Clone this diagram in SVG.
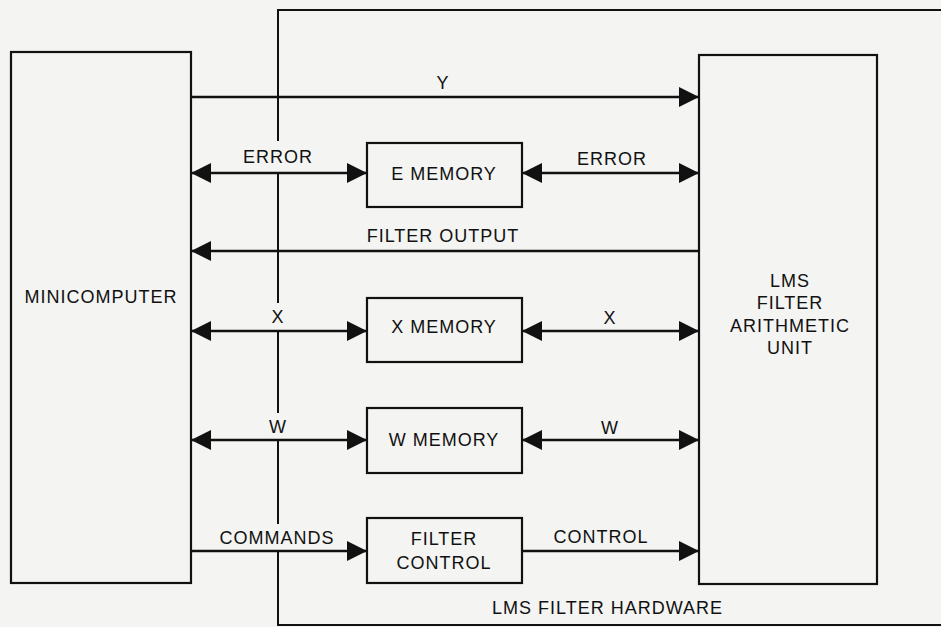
<svg xmlns="http://www.w3.org/2000/svg" width="941" height="627" viewBox="0 0 941 627">
<style>
.bg{fill:#f4f4f2}
.box{fill:none;stroke:#111;stroke-width:2.2}
.ln{fill:none;stroke:#111;stroke-width:2.6}
.bd{fill:none;stroke:#111;stroke-width:2}
text{font-family:"Liberation Sans",Arial,sans-serif;font-size:18px;letter-spacing:1px;fill:#111;text-anchor:middle}
</style>
<defs>
<marker id="ah" markerUnits="userSpaceOnUse" markerWidth="20" markerHeight="20" viewBox="0 0 18 18" refX="18" refY="9" orient="auto-start-reverse">
<path d="M0,0 L18,9 L0,18 Z" fill="#111"/>
</marker>
</defs>
<rect class="bg" x="0" y="0" width="941" height="627"/>
<g id="hardware">
<path class="bd" d="M278,141 V10 H941"/>
<path class="bd" d="M278,173 V303"/>
<path class="bd" d="M278,331 V413"/>
<path class="bd" d="M278,440 V524"/>
<path class="bd" d="M278,551 V625 H941"/>
<text x="492" y="614" style="text-anchor:start">LMS FILTER HARDWARE</text>
</g>
<g id="minicomputer">
<rect class="box" x="11" y="52" width="180" height="531"/>
<text x="101" y="303">MINICOMPUTER</text>
</g>
<g id="lms-unit">
<rect class="box" x="699" y="55" width="178" height="529"/>
<text x="790" y="287">LMS</text>
<text x="790" y="309">FILTER</text>
<text x="790" y="332">ARITHMETIC</text>
<text x="790" y="354">UNIT</text>
</g>
<g id="e-memory">
<rect class="box" x="367" y="143" width="155" height="64"/>
<text x="444" y="180">E MEMORY</text>
</g>
<g id="x-memory">
<rect class="box" x="367" y="298" width="155" height="64"/>
<text x="444" y="333">X MEMORY</text>
</g>
<g id="w-memory">
<rect class="box" x="367" y="408" width="155" height="65"/>
<text x="444" y="446">W MEMORY</text>
</g>
<g id="filter-control">
<rect class="box" x="367" y="518" width="155" height="65"/>
<text x="444" y="545">FILTER</text>
<text x="444" y="569">CONTROL</text>
</g>
<g id="connectors">
<line class="ln" x1="191" y1="97" x2="699" y2="97" marker-end="url(#ah)"/>
<text x="443" y="89">Y</text>
<line class="ln" x1="191" y1="173" x2="367" y2="173" marker-start="url(#ah)" marker-end="url(#ah)"/>
<text x="278" y="163">ERROR</text>
<line class="ln" x1="522" y1="173" x2="699" y2="173" marker-start="url(#ah)" marker-end="url(#ah)"/>
<text x="612" y="165">ERROR</text>
<line class="ln" x1="699" y1="251" x2="191" y2="251" marker-end="url(#ah)"/>
<text x="443" y="242">FILTER OUTPUT</text>
<line class="ln" x1="191" y1="331" x2="367" y2="331" marker-start="url(#ah)" marker-end="url(#ah)"/>
<text x="278" y="323">X</text>
<line class="ln" x1="522" y1="331" x2="699" y2="331" marker-start="url(#ah)" marker-end="url(#ah)"/>
<text x="610" y="324">X</text>
<line class="ln" x1="191" y1="440" x2="367" y2="440" marker-start="url(#ah)" marker-end="url(#ah)"/>
<text x="278" y="433">W</text>
<line class="ln" x1="522" y1="440" x2="699" y2="440" marker-start="url(#ah)" marker-end="url(#ah)"/>
<text x="610" y="434">W</text>
<line class="ln" x1="191" y1="551" x2="367" y2="551" marker-end="url(#ah)"/>
<text x="277" y="544">COMMANDS</text>
<line class="ln" x1="522" y1="551" x2="699" y2="551" marker-end="url(#ah)"/>
<text x="601" y="543">CONTROL</text>
</g>
</svg>
